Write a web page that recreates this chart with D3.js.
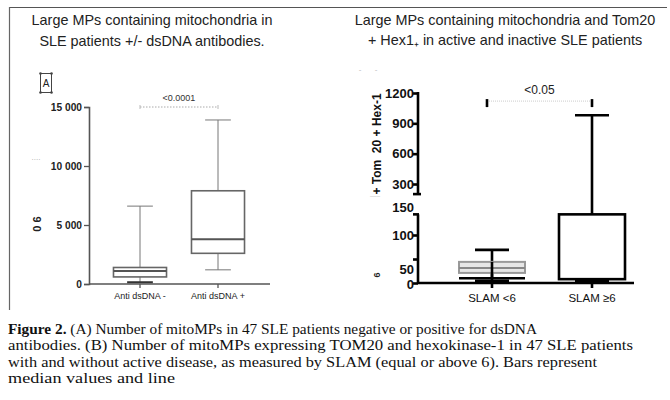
<!DOCTYPE html>
<html>
<head>
<meta charset="utf-8">
<script src="https://cdn.jsdelivr.net/npm/d3@7/dist/d3.min.js"></script>
<style>
  html, body { margin: 0; padding: 0; background: #fff; }
  svg { display: block; }
  text { white-space: pre; }
</style>
</head>
<body>
<svg id="chart" width="670" height="400"></svg>
<script>
// ---------- DATA ----------
const leftTitle = ["Large MPs containing mitochondria in", "SLE patients +/- dsDNA antibodies."];
const leftCategories = ["Anti dsDNA -", "Anti dsDNA +"];
const leftWhiskerLow = [150, 1200];
const leftQ1 = [600, 2600];
const leftMedian = [1100, 3800];
const leftQ3 = [1400, 7900];
const leftWhiskerHigh = [6600, 13900];
const leftTicks = [0, 5000, 10000, 15000];
const leftTickLabels = ["0", "5 000", "10 000", "15 000"];
const leftPValue = "<0.0001";
const leftSigLevel = 15000;

const rightTitle = ["Large MPs containing mitochondria and Tom20", "+ Hex1\u208A in active and inactive SLE patients"];
const rightCategories = ["SLAM <6", "SLAM \u22656"];
const rightWhiskerLow = [3, 3];
const rightQ1 = [10, 8];
const rightQ3 = [44, 143];
const rightWhiskerHigh = [69, 980];
const rightInnerLow = [21, null];
const rightInnerMedian = [31, null];
const rightInnerHigh = [44, null];
const rightLowerTicks = [0, 50, 100];
const rightLowerTickLabels = ["0", "50", "100"];
const rightUpperTicks = [300, 600, 900, 1200];
const rightUpperTickLabels = ["300", "600", "900", "1200"];
const rightLowerTop = 143;
const rightUpperBottom = 200;
const rightPValue = "<0.05";
const rightSigLevel = 1120;
const rightYLabel = "+ Tom\u00A0\u00A020 + Hex-1";

const captionBold = "Figure 2.";
const captionLines = [
  " (A) Number of mitoMPs in 47 SLE patients negative or positive for dsDNA",
  "antibodies. (B) Number of mitoMPs expressing TOM20 and hexokinase-1 in 47 SLE patients",
  "with and without active disease, as measured by SLAM (equal or above 6). Bars represent",
  "median values and line"
];

// ---------- DRAW ----------
const svg = d3.select("#chart");
const sans = "'Liberation Sans', Arial, Helvetica, sans-serif";

// frame lines
svg.append("line").attr("x1", 9).attr("x2", 667).attr("y1", 7.5).attr("y2", 7.5)
  .attr("stroke", "#555").attr("stroke-width", 1.2);
svg.append("line").attr("x1", 9.5).attr("x2", 9.5).attr("y1", 7).attr("y2", 310)
  .attr("stroke", "#666").attr("stroke-width", 1.2);

// ===== LEFT PANEL =====
const L = svg.append("g");
L.selectAll("text.title").data(leftTitle).join("text")
  .attr("x", 152).attr("y", (d, i) => 25 + i * 21)
  .attr("text-anchor", "middle").attr("font-family", sans).attr("font-size", 14.4)
  .attr("fill", "#222").text(d => d);

const yL = d3.scaleLinear().domain([0, 15000]).range([284, 107]);
const xL = d3.scaleBand().domain(leftCategories).range([101, 257]);
const axX = 89;
const grey = "#555";

const yAxisL = d3.axisLeft(yL).tickValues(leftTicks).tickSize(5)
  .tickFormat((d, i) => leftTickLabels[i]);
const gyL = L.append("g").attr("transform", `translate(${axX},0)`).call(yAxisL);
gyL.select(".domain").attr("stroke", grey).attr("stroke-width", 1.6);
gyL.selectAll(".tick line").attr("stroke", grey).attr("stroke-width", 1.3);
gyL.selectAll(".tick text").attr("font-family", sans).attr("font-size", 10.2)
  .attr("font-weight", "bold").attr("fill", "#222").attr("x", -7);

L.append("line").attr("x1", axX).attr("x2", 270).attr("y1", yL(0)).attr("y2", yL(0))
  .attr("stroke", grey).attr("stroke-width", 1.6);
leftCategories.forEach((c, i) => {
  const cx = xL(c) + xL.bandwidth() / 2;
  L.append("line").attr("x1", cx).attr("x2", cx).attr("y1", yL(0)).attr("y2", yL(0) + 4)
    .attr("stroke", grey).attr("stroke-width", 1.3);
  L.append("text").attr("x", cx).attr("y", 299).attr("text-anchor", "middle")
    .attr("font-family", sans).attr("font-size", 9).attr("fill", "#222").text(c);
});

leftCategories.forEach((c, i) => {
  const cx = xL(c) + xL.bandwidth() / 2;
  const bw = xL.bandwidth() * 0.68;
  const cw = xL.bandwidth() * 0.33;
  L.append("line").attr("x1", cx).attr("x2", cx)
    .attr("y1", yL(leftWhiskerHigh[i])).attr("y2", yL(leftWhiskerLow[i]))
    .attr("stroke", "#777").attr("stroke-width", 1);
  L.append("line").attr("x1", cx - cw / 2).attr("x2", cx + cw / 2)
    .attr("y1", yL(leftWhiskerHigh[i])).attr("y2", yL(leftWhiskerHigh[i]))
    .attr("stroke", "#777").attr("stroke-width", 1);
  L.append("line").attr("x1", cx - cw / 2).attr("x2", cx + cw / 2)
    .attr("y1", yL(leftWhiskerLow[i])).attr("y2", yL(leftWhiskerLow[i]))
    .attr("stroke", i === 0 ? "#333" : "#777").attr("stroke-width", i === 0 ? 2 : 1);
  L.append("rect").attr("x", cx - bw / 2).attr("width", bw)
    .attr("y", yL(leftQ3[i])).attr("height", yL(leftQ1[i]) - yL(leftQ3[i]))
    .attr("fill", "#fff").attr("stroke", "#666").attr("stroke-width", 1.6);
  L.append("line").attr("x1", cx - bw / 2).attr("x2", cx + bw / 2)
    .attr("y1", yL(leftMedian[i])).attr("y2", yL(leftMedian[i]))
    .attr("stroke", "#555").attr("stroke-width", 2);
});

{
  const x1 = xL(leftCategories[0]) + xL.bandwidth() / 2;
  const x2 = xL(leftCategories[1]) + xL.bandwidth() / 2;
  const ys = yL(leftSigLevel);
  L.append("line").attr("x1", x1).attr("x2", x2).attr("y1", ys).attr("y2", ys)
    .attr("stroke", "#aaa").attr("stroke-width", 1).attr("stroke-dasharray", "1.5,1.5");
  [x1, x2].forEach(x => L.append("line").attr("x1", x).attr("x2", x)
    .attr("y1", ys - 2).attr("y2", ys + 2).attr("stroke", "#bbb").attr("stroke-width", 1));
  L.append("text").attr("x", (x1 + x2) / 2).attr("y", ys - 6).attr("text-anchor", "middle")
    .attr("font-family", sans).attr("font-size", 9).attr("fill", "#333").text(leftPValue);
}

L.append("rect").attr("x", 40.5).attr("y", 73.5).attr("width", 11).attr("height", 19)
  .attr("fill", "none").attr("stroke", "#444").attr("stroke-width", 1);
[[40.5, 73.5], [51.5, 73.5], [40.5, 92.5], [51.5, 92.5]].forEach(p =>
  L.append("circle").attr("cx", p[0]).attr("cy", p[1]).attr("r", 1.3).attr("fill", "#444"));
L.append("text").attr("x", 46).attr("y", 87).attr("text-anchor", "middle")
  .attr("font-family", sans).attr("font-size", 10).attr("fill", "#222").text("A");

L.append("text").attr("transform", "translate(41,224) rotate(-90)")
  .attr("text-anchor", "middle").attr("font-family", sans).attr("font-size", 11)
  .attr("font-weight", "bold").attr("fill", "#222").text("0 6");
L.append("text").attr("x", 36).attr("y", 160).attr("text-anchor", "middle")
  .attr("font-family", sans).attr("font-size", 8).attr("fill", "#aaa").text("....");

// ===== RIGHT PANEL =====
const R = svg.append("g");
R.selectAll("text.title").data(rightTitle).join("text")
  .attr("x", 505).attr("y", (d, i) => 25 + i * 20)
  .attr("text-anchor", "middle").attr("font-family", sans).attr("font-size", 14.4)
  .attr("fill", "#222").text(d => d);

const yLow = d3.scaleLinear().domain([0, 100]).range([283, 235]);
const yUp = d3.scaleLinear().domain([300, 1200]).range([184, 93]);
const yR = v => (v <= rightLowerTop ? yLow(v) : yUp(v));
const xR = d3.scaleBand().domain(rightCategories).range([442, 642]);
const rAx = 418;
const sw = 2.6;

const gUp = R.append("g").attr("transform", `translate(${rAx},0)`)
  .call(d3.axisLeft(yUp).tickValues(rightUpperTicks).tickSize(5)
    .tickFormat((d, i) => rightUpperTickLabels[i]));
gUp.select(".domain").remove();
const gLow = R.append("g").attr("transform", `translate(${rAx},0)`)
  .call(d3.axisLeft(yLow).tickValues(rightLowerTicks).tickSize(5)
    .tickFormat((d, i) => rightLowerTickLabels[i]));
gLow.select(".domain").remove();
[gUp, gLow].forEach(g => {
  g.selectAll(".tick line").attr("stroke", "#000").attr("stroke-width", sw);
  g.selectAll(".tick text").attr("font-family", sans).attr("font-size", 13)
    .attr("font-weight", "bold").attr("fill", "#111").attr("x", -4);
});
gLow.selectAll(".tick").filter(d => d === 50).select("text").attr("dy", "1.1em");
gLow.selectAll(".tick").filter(d => d === 0).select("text").attr("dy", "0.4em");
R.append("text").attr("x", rAx - 4).attr("y", yLow(150)).attr("dy", "0.05em")
  .attr("text-anchor", "end").attr("font-family", sans).attr("font-size", 13)
  .attr("font-weight", "bold").attr("fill", "#111").text("150");

R.append("line").attr("x1", rAx).attr("x2", rAx).attr("y1", yUp(1200) - 1).attr("y2", yUp(rightUpperBottom))
  .attr("stroke", "#000").attr("stroke-width", sw);
R.append("line").attr("x1", rAx - 5).attr("x2", rAx + 3).attr("y1", yUp(rightUpperBottom)).attr("y2", yUp(rightUpperBottom))
  .attr("stroke", "#000").attr("stroke-width", sw);
R.append("line").attr("x1", rAx).attr("x2", rAx).attr("y1", yLow(rightLowerTop)).attr("y2", yLow(0))
  .attr("stroke", "#000").attr("stroke-width", sw);
R.append("line").attr("x1", rAx - 5).attr("x2", rAx + 1).attr("y1", yLow(rightLowerTop)).attr("y2", yLow(rightLowerTop))
  .attr("stroke", "#000").attr("stroke-width", sw);
R.append("line").attr("x1", rAx).attr("x2", 634).attr("y1", yLow(0)).attr("y2", yLow(0))
  .attr("stroke", "#000").attr("stroke-width", sw);

rightCategories.forEach((c, i) => {
  const cx = xR(c) + xR.bandwidth() / 2;
  const bw = xR.bandwidth() * 0.66;
  const cw = xR.bandwidth() * 0.34;
  R.append("line").attr("x1", cx).attr("x2", cx).attr("y1", yLow(0)).attr("y2", yLow(0) + 5)
    .attr("stroke", "#000").attr("stroke-width", sw);
  R.append("text").attr("x", cx).attr("y", 302).attr("text-anchor", "middle")
    .attr("font-family", sans).attr("font-size", 11.5).attr("fill", "#111").text(c);
  R.append("line").attr("x1", cx).attr("x2", cx)
    .attr("y1", yR(rightWhiskerHigh[i])).attr("y2", yR(rightWhiskerLow[i]))
    .attr("stroke", "#000").attr("stroke-width", sw);
  R.append("line").attr("x1", cx - cw / 2).attr("x2", cx + cw / 2)
    .attr("y1", yR(rightWhiskerHigh[i])).attr("y2", yR(rightWhiskerHigh[i]))
    .attr("stroke", "#000").attr("stroke-width", sw);
  R.append("line").attr("x1", cx - cw / 2).attr("x2", cx + cw / 2)
    .attr("y1", yR(rightWhiskerLow[i])).attr("y2", yR(rightWhiskerLow[i]))
    .attr("stroke", "#000").attr("stroke-width", 4);
  if (rightInnerLow[i] !== null) {
    R.append("rect").attr("x", cx - bw / 2).attr("width", bw)
      .attr("y", yR(rightInnerHigh[i])).attr("height", yR(rightInnerLow[i]) - yR(rightInnerHigh[i]))
      .attr("fill", "#e6e6e6").attr("stroke", "#999").attr("stroke-width", 2);
    R.append("line").attr("x1", cx - bw / 2).attr("x2", cx + bw / 2)
      .attr("y1", yR(rightInnerMedian[i])).attr("y2", yR(rightInnerMedian[i]))
      .attr("stroke", "#888").attr("stroke-width", 2);
    R.append("line").attr("x1", cx).attr("x2", cx)
      .attr("y1", yR(rightInnerHigh[i])).attr("y2", yR(rightQ1[i]))
      .attr("stroke", "#000").attr("stroke-width", sw);
    R.append("line").attr("x1", cx - bw / 2).attr("x2", cx + bw / 2)
      .attr("y1", yR(rightQ1[i])).attr("y2", yR(rightQ1[i]))
      .attr("stroke", "#000").attr("stroke-width", sw);
  } else {
    R.append("rect").attr("x", cx - bw / 2).attr("width", bw)
      .attr("y", yR(rightQ3[i])).attr("height", yR(rightQ1[i]) - yR(rightQ3[i]))
      .attr("fill", "#fff").attr("stroke", "#000").attr("stroke-width", sw);
  }
});

{
  const x1 = xR(rightCategories[0]) + xR.bandwidth() / 2 - 5;
  const x2 = xR(rightCategories[1]) + xR.bandwidth() / 2;
  const ys = yUp(rightSigLevel);
  R.append("line").attr("x1", x1).attr("x2", x2).attr("y1", ys).attr("y2", ys)
    .attr("stroke", "#ccc").attr("stroke-width", 1).attr("stroke-dasharray", "1,1");
  [x1, x2].forEach(x => R.append("line").attr("x1", x).attr("x2", x)
    .attr("y1", ys - 2).attr("y2", ys + 6).attr("stroke", "#000").attr("stroke-width", sw));
  R.append("text").attr("x", (x1 + x2) / 2).attr("y", ys - 7).attr("text-anchor", "middle")
    .attr("font-family", sans).attr("font-size", 12).attr("fill", "#222").text(rightPValue);
}

R.append("text").attr("transform", "translate(381,144) rotate(-90)")
  .attr("text-anchor", "middle").attr("font-family", sans).attr("font-size", 12)
  .attr("font-weight", "bold").attr("fill", "#111").text(rightYLabel);
R.append("text").attr("transform", "translate(380,275) rotate(-90)")
  .attr("text-anchor", "middle").attr("font-family", sans).attr("font-size", 9)
  .attr("font-weight", "bold").attr("fill", "#222").text("6");
R.append("text").attr("x", 368).attr("y", 72).attr("text-anchor", "middle")
  .attr("font-family", sans).attr("font-size", 8).attr("fill", "#bbb").text("-      -");
R.append("text").attr("x", 375).attr("y", 198).attr("text-anchor", "middle")
  .attr("font-family", sans).attr("font-size", 6).attr("fill", "#bbb").text("\u2013\u2013\u2013");

// ===== CAPTION =====
const serif = "'Liberation Serif', 'Times New Roman', Times, serif";
const capEnds = [537, 633, 597, 175];
const cap = svg.append("g");
captionLines.forEach((line, i) => {
  const t = cap.append("text").attr("x", 8).attr("y", 334 + i * 16.3)
    .attr("font-family", serif).attr("font-size", 14.5).attr("fill", "#111");
  if (i === 0) {
    t.append("tspan").attr("font-weight", "bold").text(captionBold);
  }
  t.append("tspan").text(line);
  t.attr("textLength", capEnds[i] - 8).attr("lengthAdjust", "spacingAndGlyphs");
});
</script>
</body>
</html>
